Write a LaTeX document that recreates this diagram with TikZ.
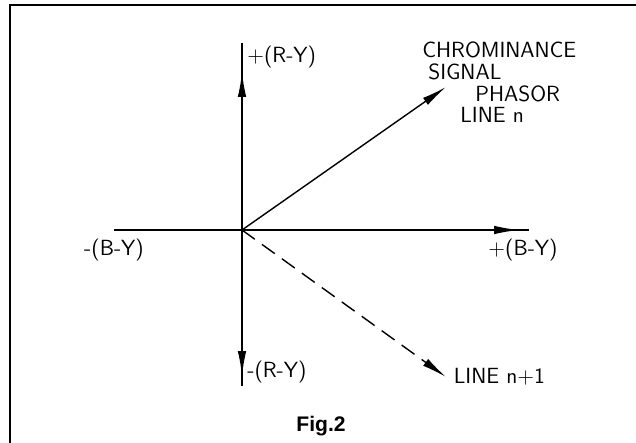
\documentclass[tikz,border=0pt]{standalone}
\usepackage{fontspec}
\newfontfamily\figfont{Liberation Sans}
\usetikzlibrary{arrows.meta,decorations.markings,positioning}

\begin{document}
\begin{tikzpicture}[>={Latex[length=5mm,width=1.7mm]},
  axis/.style={line width=0.8pt},
  lbl/.style={font=\sffamily\fontsize{12.5}{14}\selectfont\addfontfeatures{LetterSpace=3}, inner sep=0pt},
  midarrow/.style={postaction={decorate},
    decoration={markings, mark=at position #1 with {\arrow{>}}}}]
\path[use as bounding box] (-4.84,-4.26) rectangle (7.88,4.6);
% frame
\draw[line width=0.9pt] (-4.64,-4.26) -- (-4.64,4.5) -- (7.88,4.5);
% axes
\coordinate (O) at (0,0);
\coordinate (Rtop) at (0,3.74);
\coordinate (Rbot) at (0,-3.12);
\coordinate (Bleft) at (-2.56,0);
\coordinate (Bright) at (5.74,0);
\coordinate (Ctip) at (4.08,2.86);
\coordinate (Dtip) at (4.08,-2.94);
\draw[axis, midarrow=0.845] (O) -- (Rtop);
\draw[axis, midarrow=0.936] (O) -- (Rbot);
\draw[axis, midarrow=0.976] (Bleft) -- (Bright);
% phasors
\draw[axis, ->] (O) -- (Ctip);
\draw[axis, ->, dash pattern=on 9pt off 5pt] (O) -- (Dtip);
% labels
\node[lbl, anchor=north west, xshift=1mm, yshift=-0.6mm] (rpos) at (Rtop) {+(R-Y)};
\node[lbl, anchor=south west, xshift=1mm, yshift=0.6mm] (rneg) at (Rbot) {-(R-Y)};
\node[lbl, below=1.8mm of Bleft] (bneg) {-(B-Y)};
\node[lbl, below=1.8mm of Bright, xshift=-1.2mm] (bpos) {+(B-Y)};
\node[lbl, anchor=west] (chroma) at (3.6,3.6) {CHROMINANCE};
\node[lbl, anchor=west] (signal) at (3.72,3.16) {SIGNAL};
\node[lbl, anchor=west] (phasor) at (4.66,2.72) {PHASOR};
\node[lbl, anchor=west] (linen) at (4.36,2.3) {LINE n};
\node[lbl, right=1.5mm of Dtip] (linenext) {LINE n+1};
\node[font=\figfont\bfseries\fontsize{12}{14}\selectfont] (fig) at (1.58,-3.92) {Fig.2};
\end{tikzpicture}
\end{document}
